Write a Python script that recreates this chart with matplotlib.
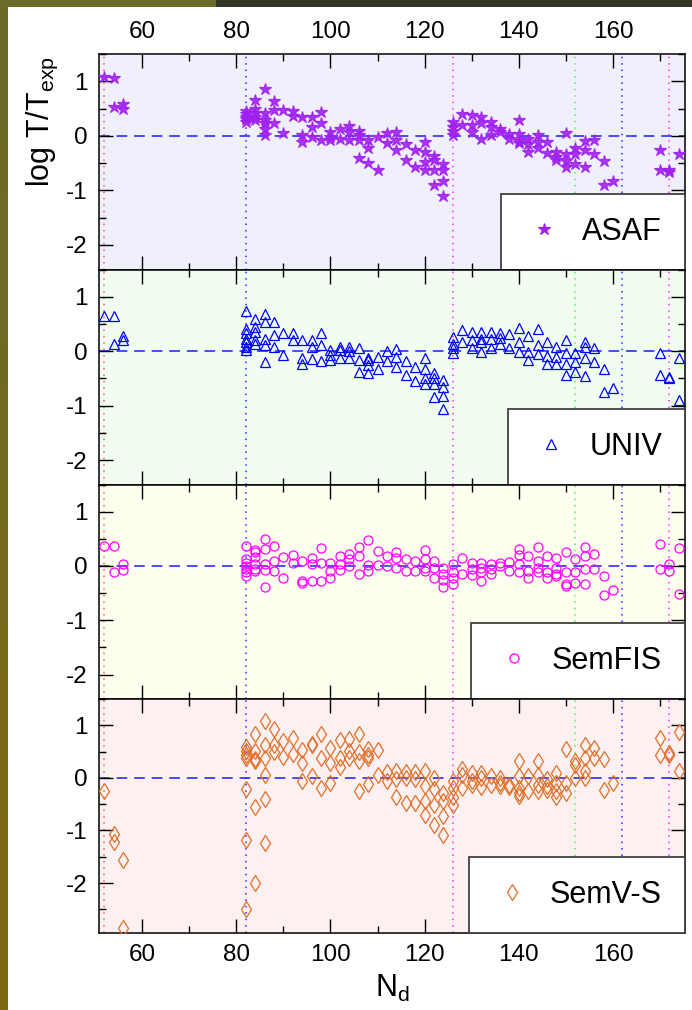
import matplotlib
matplotlib.use("Agg")
import matplotlib.pyplot as plt
import numpy as np
from matplotlib.lines import Line2D
from matplotlib.patches import Rectangle
from matplotlib.ticker import MultipleLocator

plt.rcParams["font.family"] = ["Liberation Sans", "DejaVu Sans"]
plt.rcParams["mathtext.fontset"] = "custom"
plt.rcParams["mathtext.rm"] = "Liberation Sans"
plt.rcParams["mathtext.it"] = "Liberation Sans:italic"
plt.rcParams["axes.unicode_minus"] = False

# shell closures drawn as dotted guides
magic_n = [52, 82, 126, 152, 162, 172]
magic_colors = ["#ff5a5a", "#2a2aff", "#ff2aff", "#44ff44", "#2a2aff", "#ff2aff"]

# log T/Texp per neutron number (several isotopes per N)
asaf = {
    52: [1.08], 54: [1.06, 0.53], 56: [0.58, 0.50],
    82: [0.45, 0.40, 0.35, 0.30, 0.25], 84: [0.66, 0.50, 0.41, 0.35, 0.29],
    86: [0.85, 0.41, 0.29, 0.23, 0.13, 0.01], 88: [0.64, 0.47, 0.24],
    90: [0.47, 0.06], 92: [0.46, 0.36], 94: [0.35, 0.01, -0.11],
    96: [0.35, 0.17, -0.03], 98: [0.44, 0.24, -0.07], 100: [0.07, -0.02, -0.07],
    102: [0.12, -0.05], 104: [0.18, 0.07, -0.08], 106: [0.09, 0.01, -0.07, -0.40],
    108: [-0.07, -0.23, -0.50], 110: [-0.03, -0.62], 112: [0.06, -0.14],
    114: [0.07, -0.07, -0.26], 116: [-0.15, -0.45], 118: [-0.26, -0.57],
    120: [-0.11, -0.29, -0.48, -0.63], 122: [-0.37, -0.45, -0.62, -0.90],
    124: [-0.51, -0.63, -0.82, -1.11], 126: [0.26, 0.17, 0.09, 0.01],
    128: [0.40, 0.20], 130: [0.38, 0.20, 0.07], 132: [0.35, 0.23, -0.05],
    134: [0.26, 0.17, 0.01], 136: [0.12, 0.07], 138: [0.04, -0.05],
    140: [0.29, 0.04, -0.09, -0.14], 142: [-0.05, -0.15, -0.29],
    144: [0.02, -0.11, -0.23], 146: [-0.11, -0.31], 148: [-0.29, -0.39, -0.45],
    150: [0.06, -0.33, -0.46, -0.57], 152: [-0.23, -0.33, -0.51],
    154: [-0.09, -0.26, -0.58], 156: [-0.08, -0.33], 158: [-0.46, -0.90],
    160: [-0.83], 170: [-0.26, -0.63], 172: [-0.62, -0.67], 174: [-0.34],
}
univ = {
    52: [0.64], 54: [0.65, 0.13], 56: [0.27, 0.21],
    82: [0.74, 0.40, 0.33, 0.23, 0.16, 0.08, 0.02], 84: [0.59, 0.45, 0.36, 0.20, 0.14],
    86: [0.68, 0.53, 0.23, 0.11, -0.20], 88: [0.53, 0.29, 0.08], 90: [0.33, -0.07],
    92: [0.33, 0.20], 94: [0.20, -0.12, -0.23], 96: [0.21, 0.08, -0.15],
    98: [0.34, 0.11, -0.18], 100: [0.02, -0.07, -0.17], 102: [0.07, 0.02, -0.12],
    104: [0.07, 0.00, -0.12], 106: [0.05, -0.17, -0.38], 108: [-0.12, -0.17, -0.25, -0.40],
    110: [-0.10, -0.32], 112: [0.00, -0.18], 114: [0.04, -0.10, -0.29],
    116: [-0.18, -0.44], 118: [-0.29, -0.55], 120: [-0.12, -0.32, -0.50, -0.61],
    122: [-0.41, -0.50, -0.61, -0.84], 124: [-0.53, -0.66, -0.82, -1.06],
    126: [0.26, 0.14, 0.05, -0.04], 128: [0.39, 0.17], 130: [0.36, 0.20, 0.05],
    132: [0.36, 0.23, 0.17, -0.02], 134: [0.36, 0.23, 0.06], 136: [0.34, 0.25, 0.14],
    138: [0.31, 0.06], 140: [0.42, 0.17, -0.01], 142: [0.28, -0.01, -0.17],
    144: [0.40, 0.12, -0.06], 146: [0.17, -0.09, -0.23], 148: [0.08, -0.10, -0.23],
    150: [0.20, -0.04, -0.23, -0.44], 152: [-0.04, -0.20, -0.38],
    154: [0.16, 0.08, -0.12, -0.45], 156: [0.05, -0.20], 158: [-0.32, -0.75],
    160: [-0.67], 170: [-0.04, -0.44], 172: [-0.47, -0.49], 174: [-0.12, -0.90],
}
semfis = {
    52: [0.37], 54: [0.37, -0.11], 56: [0.04, -0.07],
    82: [0.36, 0.12, 0.06, 0.00, -0.06, -0.12, -0.19], 84: [0.29, 0.25, 0.17, 0.03, -0.06, -0.10],
    86: [0.49, 0.31, 0.04, -0.08, -0.39], 88: [0.37, 0.10, -0.09], 90: [0.17, -0.22],
    92: [0.20, 0.06], 94: [0.09, -0.28, -0.31], 96: [0.15, 0.04, -0.27],
    98: [0.33, 0.06, -0.28], 100: [0.05, -0.09, -0.22], 102: [0.19, 0.03, -0.08],
    104: [0.22, 0.12, 0.00], 106: [0.34, 0.19, -0.15], 108: [0.48, 0.01, -0.09],
    110: [0.27, 0.01], 112: [0.19, 0.00], 114: [0.26, 0.15, -0.03],
    116: [0.12, -0.10], 118: [0.09, -0.10], 120: [0.29, 0.12, -0.03, -0.10],
    122: [0.09, -0.04, -0.23], 124: [-0.03, -0.14, -0.25, -0.39],
    126: [0.03, -0.12, -0.23, -0.33], 128: [0.15, -0.14], 130: [0.06, -0.06, -0.17],
    132: [0.05, -0.03, -0.12, -0.27], 134: [0.03, -0.06, -0.15], 136: [0.06, 0.00],
    138: [0.07, -0.09], 140: [0.32, 0.20, 0.04, -0.12], 142: [0.19, -0.09, -0.23],
    144: [0.34, 0.10, -0.03, -0.12], 146: [0.19, -0.12, -0.23],
    148: [0.14, -0.03, -0.15, -0.19], 150: [0.25, -0.12, -0.33, -0.37],
    152: [0.12, -0.12, -0.31], 154: [0.35, 0.19, -0.06, -0.34], 156: [0.22, -0.06],
    158: [-0.19, -0.54], 160: [-0.45], 170: [0.41, -0.05], 172: [0.03, -0.10],
    174: [0.33, -0.51],
}
semvs = {
    52: [-0.25], 54: [-1.06, -1.22], 56: [-1.57, -2.86],
    82: [0.58, 0.51, 0.43, 0.37, -0.22, -1.19, -2.49], 84: [0.84, 0.52, 0.35, 0.32, -0.56, -2.00],
    86: [1.09, 0.62, 0.38, 0.05, -0.41, -1.24], 88: [0.92, 0.62, 0.50], 90: [0.70, 0.39],
    92: [0.75, 0.46], 94: [0.53, 0.29, -0.05], 96: [0.65, 0.62, 0.03],
    98: [0.83, 0.38, -0.20], 100: [0.56, 0.29, -0.10], 102: [0.72, 0.37, 0.20],
    104: [0.73, 0.51, 0.38], 106: [0.84, 0.50, 0.32, -0.25], 108: [0.54, 0.44, 0.38, -0.11],
    110: [0.53, 0.05], 112: [0.11, -0.06], 114: [0.14, -0.03, -0.36],
    116: [0.11, 0.00, -0.48], 118: [0.11, -0.03, -0.48], 120: [0.14, -0.16, -0.44, -0.71],
    122: [-0.01, -0.22, -0.51, -0.90], 124: [-0.29, -0.44, -0.73, -1.08],
    126: [-0.06, -0.19, -0.37, -0.51], 128: [0.16, 0.05, -0.19], 130: [0.10, -0.06, -0.14],
    132: [0.10, 0.00, -0.18], 134: [0.03, -0.13], 136: [0.00, -0.10, -0.16],
    138: [-0.14, -0.18], 140: [0.33, 0.03, -0.19, -0.29, -0.35], 142: [0.03, -0.25],
    144: [0.32, 0.06, -0.14, -0.25], 146: [-0.03, -0.16, -0.24],
    148: [0.10, -0.10, -0.25, -0.37], 150: [0.54, -0.10, -0.29],
    152: [0.32, 0.25, -0.01], 154: [0.63, 0.37, 0.14, -0.01], 156: [0.56, 0.37],
    158: [0.35, -0.24], 160: [-0.10], 170: [0.75, 0.43], 172: [0.48, 0.44],
    174: [0.88, 0.14],
}


def flatten(d):
    n = [k for k, v in d.items() for _ in v]
    y = [val for v in d.values() for val in v]
    return np.array(n), np.array(y)


panels = [
    (asaf, "ASAF", "*", "#a020f0", 9.0, "#f0f0fc", (-2.45, 1.5)),
    (univ, "UNIV", "^", "#0000ff", 6.5, "#f0fdf0", (-2.45, 1.5)),
    (semfis, "SemFIS", "o", "#ff00ff", 6.5, "#fffff0", (-2.45, 1.5)),
    (semvs, "SemV-S", "d", "#e0702a", 8.5, "#fdf0f0", (-2.95, 1.5)),
]

fig = plt.figure(figsize=(6.92, 10.10), dpi=100)

# frame decoration: gradient strip on the left, bar on top
strip = fig.add_axes([0, 0, 8 / 692, 1])
grad = np.linspace(0, 1, 256)[:, None]
top_c = np.array([0x6b, 0x6b, 0x2a]) / 255
bot_c = np.array([0x80, 0x68, 0x12]) / 255
strip.imshow(top_c + grad[..., None] * (bot_c - top_c), aspect="auto",
             extent=[0, 1, 0, 1], origin="upper")
strip.axis("off")
fig.add_artist(Rectangle((0, 1 - 7 / 1010), 216 / 692, 7 / 1010,
                         transform=fig.transFigure, color="#6b6b2a", lw=0))
fig.add_artist(Rectangle((216 / 692, 1 - 7 / 1010), 1, 7 / 1010,
                         transform=fig.transFigure, color="#363628", lw=0))

left, right = 99 / 692, 685 / 692
edges = [54, 269.5, 484.5, 699, 933]

axes = []
for i, (data, label, marker, color, ms, bg, ylim) in enumerate(panels):
    top, bottom = edges[i], edges[i + 1]
    ax = fig.add_axes([left, 1 - bottom / 1010, right - left, (bottom - top) / 1010])
    ax.set_facecolor(bg)
    n, y = flatten(data)

    for xm, cm in zip(magic_n, magic_colors):
        ax.axvline(xm, color=cm, lw=1.1, ls=(0, (1, 3.2)), zorder=1)
    ax.axhline(0, color="#1a1aff", lw=1.1, ls=(0, (7, 4.5)), zorder=1)

    face = color if marker == "*" else "none"
    ax.plot(n, y, ls="none", marker=marker, ms=ms, mfc=face, mec=color, mew=0.9,
            alpha=0.9 if marker == "*" else 1.0, zorder=3)

    handle = Line2D([], [], ls="none", marker=marker, ms=ms, mec=color, mew=0.9, mfc=face)
    leg = ax.legend([handle], [label], loc="lower right", borderaxespad=0,
                    fontsize=22, fancybox=False, framealpha=1, edgecolor="#404040",
                    borderpad=0.75, handlelength=1.3, handletextpad=0.6, numpoints=1)
    leg.get_frame().set_linewidth(1.3)
    leg.set_zorder(5)

    ax.set_xlim(50.85, 175.3)
    ax.set_ylim(*ylim)
    ax.xaxis.set_major_locator(MultipleLocator(20))
    ax.xaxis.set_minor_locator(MultipleLocator(10))
    ax.yaxis.set_major_locator(MultipleLocator(1))
    ax.yaxis.set_minor_locator(MultipleLocator(0.5))
    ax.tick_params(which="both", direction="in", top=True, right=True, width=1.0,
                   labelsize=17.5, labelbottom=(i == 3), labeltop=(i == 0), pad=8)
    ax.tick_params(which="major", length=10)
    ax.tick_params(which="minor", length=5)
    for s in ax.spines.values():
        s.set_linewidth(1.1)
    axes.append(ax)

axes[-1].set_xlabel("N$_\\mathrm{d}$", fontsize=22, labelpad=5)
fig.text(42 / 692, 1 - 122 / 1010, "log T/T$_\\mathrm{exp}$", rotation=90,
         ha="center", va="center", fontsize=22)

fig.savefig("out.png", dpi=100)
